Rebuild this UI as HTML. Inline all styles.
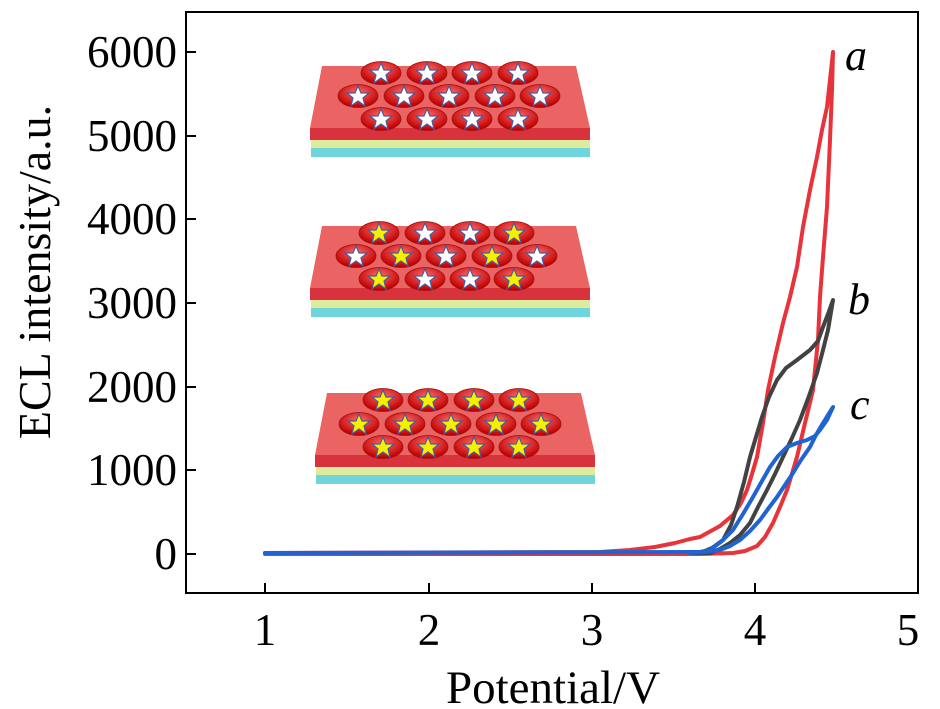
<!DOCTYPE html>
<html><head><style>body{margin:0;background:#fff}svg{display:block}</style></head><body>
<svg width="940" height="709" viewBox="0 0 940 709" xmlns="http://www.w3.org/2000/svg" font-family="Liberation Serif, serif">
<defs>
<radialGradient id="rg" cx="0.5" cy="0.35" r="0.6"><stop offset="0" stop-color="#ff6a6a"/><stop offset="1" stop-color="#c00000"/></radialGradient>
<g id="bw"><ellipse cx="0" cy="0" rx="20" ry="11.5" fill="url(#rg)" stroke="#a01010" stroke-width="0.8"/><polygon points="0,-10 3,-3 11,-3 5,2 7,10 0,5 -7,10 -5,2 -11,-3 -3,-3" fill="#fff" stroke="#4a5aa0" stroke-width="1.2"/></g>
<g id="by"><ellipse cx="0" cy="0" rx="20" ry="11.5" fill="url(#rg)" stroke="#a01010" stroke-width="0.8"/><polygon points="0,-10 3,-3 11,-3 5,2 7,10 0,5 -7,10 -5,2 -11,-3 -3,-3" fill="#f4f000" stroke="#4a5aa0" stroke-width="1.2"/></g>
<g id="slab"><polygon points="322,0 576,0 590,62 310,62" fill="#ea6464"/><rect x="310" y="62" width="280" height="12" fill="#d8323c"/><rect x="311" y="74" width="279" height="8" fill="#dcec9c"/><rect x="311" y="82" width="279" height="9" fill="#70d4dc"/></g>
</defs>
<rect x="186" y="12" width="732" height="581" fill="none" stroke="#000" stroke-width="2"/>
<g stroke="#000" stroke-width="2">
<line x1="265" y1="593" x2="265" y2="583"/><line x1="429" y1="593" x2="429" y2="583"/><line x1="592" y1="593" x2="592" y2="583"/><line x1="755" y1="593" x2="755" y2="583"/>
<line x1="186" y1="554" x2="196" y2="554"/><line x1="186" y1="470" x2="196" y2="470"/><line x1="186" y1="387" x2="196" y2="387"/><line x1="186" y1="303" x2="196" y2="303"/><line x1="186" y1="219" x2="196" y2="219"/><line x1="186" y1="136" x2="196" y2="136"/><line x1="186" y1="52" x2="196" y2="52"/>
</g>
<g font-size="45" fill="#000" text-anchor="end">
<text x="177" y="569">0</text><text x="177" y="485">1000</text><text x="177" y="402">2000</text><text x="177" y="318">3000</text><text x="177" y="234">4000</text><text x="177" y="151">5000</text><text x="177" y="67">6000</text>
</g>
<g font-size="45" fill="#000" text-anchor="middle">
<text x="265" y="645">1</text><text x="429" y="645">2</text><text x="592" y="645">3</text><text x="755" y="645">4</text><text x="908" y="645">5</text>
<text x="553" y="703" font-size="47">Potential/V</text>
</g>
<text transform="translate(50,272) rotate(-90)" font-size="46" text-anchor="middle">ECL intensity/a.u.</text>
<g font-size="44" font-style="italic"><text x="845" y="70">a</text><text x="848" y="314">b</text><text x="850" y="419">c</text></g>

<use href="#slab" y="66"/>
<use href="#bw" x="381" y="73"/><use href="#bw" x="427" y="73"/><use href="#bw" x="472" y="73"/><use href="#bw" x="518" y="73"/>
<use href="#bw" x="358" y="96"/><use href="#bw" x="404" y="96"/><use href="#bw" x="449" y="96"/><use href="#bw" x="495" y="96"/><use href="#bw" x="540" y="96"/>
<use href="#bw" x="381" y="119"/><use href="#bw" x="427" y="119"/><use href="#bw" x="472" y="119"/><use href="#bw" x="518" y="119"/>

<use href="#slab" y="226"/>
<use href="#by" x="379" y="233"/><use href="#bw" x="425" y="233"/><use href="#bw" x="470" y="233"/><use href="#by" x="514" y="233"/>
<use href="#bw" x="356" y="256"/><use href="#by" x="401" y="256"/><use href="#bw" x="446" y="256"/><use href="#by" x="492" y="256"/><use href="#bw" x="537" y="256"/>
<use href="#by" x="379" y="279"/><use href="#bw" x="425" y="279"/><use href="#bw" x="470" y="279"/><use href="#by" x="514" y="279"/>

<g transform="translate(5,0)"><use href="#slab" y="393"/></g>
<use href="#by" x="383" y="400"/><use href="#by" x="428" y="400"/><use href="#by" x="474" y="400"/><use href="#by" x="519" y="400"/>
<use href="#by" x="359" y="424"/><use href="#by" x="405" y="424"/><use href="#by" x="451" y="424"/><use href="#by" x="496" y="424"/><use href="#by" x="541" y="424"/>
<use href="#by" x="383" y="447"/><use href="#by" x="428" y="447"/><use href="#by" x="474" y="447"/><use href="#by" x="519" y="447"/>

<g fill="none" stroke-width="4" stroke-linejoin="round" stroke-linecap="round">
<polyline stroke="#e8333a" points="265,553 600,552 630,550 655,547 675,543 690,539 700,537 720,526 733,515 741,503 747,490 752,474 757,457 760,440 763,423 768,390 775,357 783,323 790,297 797,267 803,227 810,190 817,157 822,130 827,107 830,80 833,52 832,90 830,140 827,207 823,257 820,297 818,340 813,390 805,423 797,457 787,490 780,507 773,523 765,537 757,546 745,551 733,553 700,554 265,554"/>
<polyline stroke="#424242" points="690,553 700,553 712,548 723,540 731,525 737,507 744,482 750,457 756,437 762,417 769,397 777,380 786,368 797,360 810,350 818,341 823,327 828,314 833,300 828,330 823,350 817,373 809,396 800,420 792,438 783,457 775,474 767,490 758,507 750,523 740,535 730,543 720,549 710,553 695,553"/>
<polyline stroke="#1f64d2" points="265,553 690,552 700,552 710,550 722,541 733,530 743,514 753,497 762,481 770,467 778,456 787,447 797,443 807,440 815,436 820,430 827,420 833,407 828,415 823,423 816,435 810,447 801,460 793,473 785,485 777,497 768,509 760,520 750,531 740,540 730,546 720,550 705,552 690,553"/>
</g>
</svg>
</body></html>
